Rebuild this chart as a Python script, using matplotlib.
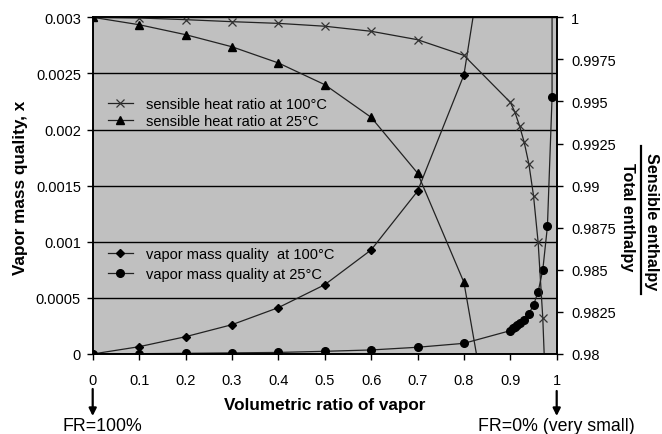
import matplotlib
matplotlib.use('Agg')
import matplotlib.pyplot as plt
from matplotlib.lines import Line2D

plt.rcParams['font.family'] = ['Liberation Sans', 'DejaVu Sans']

# ---- data ----
sh100_x = [0, 0.1, 0.2, 0.3, 0.4, 0.5, 0.6, 0.7, 0.8, 0.9, 0.91, 0.92, 0.93, 0.94, 0.95, 0.96, 0.97, 0.98]
sh100_y = [1.0, 0.99996, 0.99986, 0.99974, 0.99964, 0.99947, 0.99917, 0.99867, 0.99774,
           0.99495, 0.99436, 0.99354, 0.99257, 0.99129, 0.98941, 0.98663, 0.98214, 0.975]

sh25_x = [0, 0.1, 0.2, 0.3, 0.4, 0.5, 0.6, 0.7, 0.8, 0.9]
sh25_y = [1.0, 0.99956, 0.99897, 0.99825, 0.99729, 0.99600, 0.99406, 0.99075, 0.98426, 0.9685]

vq100_x = [0, 0.1, 0.2, 0.3, 0.4, 0.5, 0.6, 0.7, 0.8, 0.9]
vq100_y = [0, 0.000065, 0.000154, 0.000261, 0.000413, 0.000617, 0.000927, 0.00145, 0.002486, 0.0051]

vq25_x = [0, 0.1, 0.2, 0.3, 0.4, 0.5, 0.6, 0.7, 0.8, 0.9, 0.905, 0.91, 0.915, 0.92,
          0.93, 0.94, 0.95, 0.96, 0.97, 0.98, 0.99, 1.0]
vq25_y = [0, 0.000003, 0.000006, 0.00001, 0.000014, 0.000024, 0.000036, 0.00006, 0.000095,
          0.000208, 0.000229, 0.000243, 0.000258, 0.000276, 0.000307, 0.000359, 0.000436,
          0.000555, 0.000748, 0.001137, 0.002287, 1.0]

x_ticks = [0, 0.1, 0.2, 0.3, 0.4, 0.5, 0.6, 0.7, 0.8, 0.9, 1]
x_labels = ['0', '0.1', '0.2', '0.3', '0.4', '0.5', '0.6', '0.7', '0.8', '0.9', '1']
left_ticks = [0, 0.0005, 0.001, 0.0015, 0.002, 0.0025, 0.003]
left_labels = ['0', '0.0005', '0.001', '0.0015', '0.002', '0.0025', '0.003']
right_ticks = [0.98, 0.9825, 0.985, 0.9875, 0.99, 0.9925, 0.995, 0.9975, 1.0]
right_labels = ['0.98', '0.9825', '0.985', '0.9875', '0.99', '0.9925', '0.995', '0.9975', '1']

W, H = 662, 435
fig = plt.figure(figsize=(W / 100, H / 100), dpi=100)
fig.patch.set_facecolor('white')

x0, x1, ytop, ybot = 92.7, 556.7, 18.3, 355.0
ax = fig.add_axes([x0 / W, 1 - ybot / H, (x1 - x0) / W, (ybot - ytop) / H])
ax.set_facecolor('#C0C0C0')
ax.set_xlim(0, 1)
ax.set_ylim(0, 0.003)

TICKFS = 10.5
LABFS = 12.3
lc = '#222222'

ax.set_xticks(x_ticks)
ax.set_xticklabels(x_labels, fontsize=TICKFS)
ax.set_yticks(left_ticks)
ax.set_yticklabels(left_labels, fontsize=TICKFS)
ax.tick_params(axis='x', direction='out', length=4.5, width=1, pad=9)
ax.tick_params(axis='y', direction='out', length=4.5, width=1, pad=4)
ax.yaxis.grid(True, color='black', lw=1.0)
ax.set_axisbelow(True)
for s in ax.spines.values():
    s.set_linewidth(1.2)
    s.set_color('black')

l_vq100, = ax.plot(vq100_x, vq100_y, color=lc, lw=0.9, marker='D', ms=4.2,
                   mfc='black', mec='black', label='vapor mass quality  at 100°C')
l_vq25, = ax.plot(vq25_x, vq25_y, color=lc, lw=0.9, marker='o', ms=5.5,
                  mfc='black', mec='black', label='vapor mass quality at 25°C')

ax2 = ax.twinx()
ax2.set_ylim(0.98, 1.0)
ax2.set_yticks(right_ticks)
ax2.set_yticklabels(right_labels, fontsize=TICKFS)
ax2.tick_params(axis='y', direction='out', length=4.5, width=1, pad=6)
for s in ax2.spines.values():
    s.set_linewidth(1.2)
    s.set_color('black')

l_sh100, = ax2.plot(sh100_x, sh100_y, color=lc, lw=0.9, marker='x', ms=5.5, mew=0.9,
                    mec='#333333', label='sensible heat ratio at 100°C')
l_sh25, = ax2.plot(sh25_x, sh25_y, color=lc, lw=0.9, marker='^', ms=6,
                   mfc='black', mec='black', label='sensible heat ratio at 25°C')

leg1 = ax2.legend(handles=[l_sh100, l_sh25], loc='upper left',
                  bbox_to_anchor=(108 / W, 1 - 98 / H), bbox_transform=fig.transFigure,
                  frameon=False, fontsize=TICKFS, borderpad=0, borderaxespad=0,
                  handlelength=1.7, handletextpad=0.9, labelspacing=0.23)
ax2.add_artist(leg1)
leg2 = ax2.legend(handles=[l_vq100, l_vq25], loc='upper left',
                  bbox_to_anchor=(108 / W, 1 - 248 / H), bbox_transform=fig.transFigure,
                  frameon=False, fontsize=TICKFS, borderpad=0, borderaxespad=0,
                  handlelength=1.7, handletextpad=0.9, labelspacing=0.42)

# axis labels
fig.text(21 / W, 1 - 188 / H, 'Vapor mass quality, x', rotation=90, ha='center', va='center',
         fontsize=LABFS, fontweight='bold')
fig.text(324.7 / W, 1 - 406 / H, 'Volumetric ratio of vapor', ha='center', va='center',
         fontsize=LABFS, fontweight='bold')

# right fraction label
RFS = 11.6
fig.text(651 / W, 1 - 222 / H, 'Sensible enthalpy', rotation=-90, ha='center', va='center',
         fontsize=RFS, fontweight='bold')
fig.text(627 / W, 1 - 217 / H, 'Total enthalpy', rotation=-90, ha='center', va='center',
         fontsize=RFS, fontweight='bold')
fig.add_artist(Line2D([640.5 / W, 640.5 / W], [1 - 146.7 / H, 1 - 295 / H],
                      transform=fig.transFigure, color='black', lw=1.6))

# arrows and FR annotations
ax.annotate('', xy=(92.7, H - 417), xytext=(92.7, H - 390), xycoords='figure pixels',
            textcoords='figure pixels',
            arrowprops=dict(arrowstyle='-|>', color='black', lw=1.6, mutation_scale=11,
                            shrinkA=0, shrinkB=0))
ax.annotate('', xy=(556.7, H - 417), xytext=(556.7, H - 392), xycoords='figure pixels',
            textcoords='figure pixels',
            arrowprops=dict(arrowstyle='-|>', color='black', lw=1.6, mutation_scale=11,
                            shrinkA=0, shrinkB=0))
fig.text(102.4 / W, 1 - 427 / H, 'FR=100%', ha='center', va='center', fontsize=12.8)
fig.text(555.9 / W, 1 - 427 / H, 'FR=0% (very small)', ha='center', va='center', fontsize=12.8)

fig.savefig('out.png', dpi=100)
